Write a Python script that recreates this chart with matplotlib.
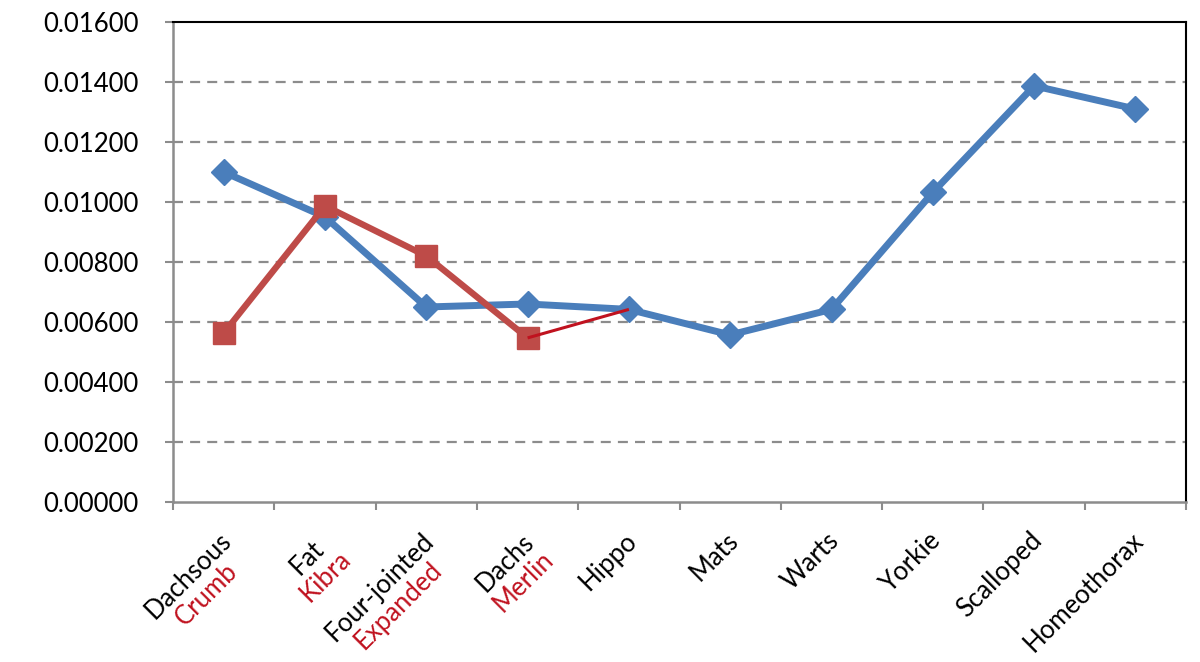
import numpy as np
import matplotlib.pyplot as plt

plt.rcParams['font.family'] = ['Lato', 'DejaVu Sans']

# category labels: first line black, second line (if any) red
top_labels = ['Dachsous', 'Fat', 'Four-jointed', 'Dachs', 'Hippo',
              'Mats', 'Warts', 'Yorkie', 'Scalloped', 'Homeothorax']
red_labels = ['Crumb', 'Kibra', 'Expanded', 'Merlin', '', '', '', '', '', '']

blue_vals = [0.01100, 0.00950, 0.00650, 0.00660, 0.00642,
             0.00557, 0.00642, 0.01032, 0.01387, 0.01310]
red_vals = [0.00563, 0.00987, 0.00820, 0.00547]
# thin connector from Merlin to Hippo
link_idx = [3, 4]
link_vals = [0.00547, 0.00642]

yticks = np.arange(0, 0.0161, 0.002)

blue = '#4a7ebb'
red = '#be4b48'
dark_red = '#c0121f'
grey = '#8c8c8c'

fig = plt.figure(figsize=(12, 6.62), dpi=100)
ax = fig.add_axes([0.1442, 0.2417, 0.8442, 0.7251])

x = np.arange(len(top_labels))
ax.plot(x, blue_vals, color=blue, lw=5, marker='D', ms=13, zorder=3)
ax.plot(x[:len(red_vals)], red_vals, color=red, lw=4.6, marker='s', ms=15.5, zorder=4)
ax.plot(link_idx, link_vals, color=dark_red, lw=2.2, zorder=5, solid_capstyle='butt')

ax.set_xlim(-0.5, len(top_labels) - 0.5)
ax.set_ylim(0, 0.016)
ax.set_yticks(yticks)
ax.set_yticklabels([f'{v:.5f}' for v in yticks])
ax.set_xticks(np.arange(-0.5, len(top_labels), 1.0))
ax.set_xticklabels([])

for v in yticks[1:-1]:
    ax.axhline(v, color=grey, lw=1.6, dashes=(4.5, 3.2), zorder=1)

ax.tick_params(axis='y', direction='out', length=6, width=1.5, color=grey,
               labelsize=18.5, pad=19)
ax.tick_params(axis='x', direction='out', length=6, width=1.5, color=grey)
ax.spines['left'].set_color(grey)
ax.spines['bottom'].set_color(grey)
ax.spines['left'].set_linewidth(1.8)
ax.spines['bottom'].set_linewidth(1.8)
ax.spines['top'].set_color('black')
ax.spines['right'].set_color('black')
ax.spines['top'].set_linewidth(1.5)
ax.spines['right'].set_linewidth(1.5)

# rotated, two-colour category labels
label_size = 18.5
renderer = fig.canvas.get_renderer()


def text_width(s):
    t = fig.text(0, 0, s, fontsize=label_size)
    w = t.get_window_extent(renderer).width
    t.remove()
    return w


c = np.sqrt(0.5)
step = 26  # px between the two lines
for i, (a, b) in enumerate(zip(top_labels, red_labels)):
    lines = [(a, 'black')] + ([(b, dark_red)] if b else [])
    widths = [text_width(s) for s, _ in lines]
    W = max(widths)
    for k, ((s, col), w) in enumerate(zip(lines, widths)):
        back = (W - w) / 2
        dx = -5 + k * step * c - back * c
        dy = -26 - k * step * c - back * c
        ax.annotate(s, xy=(i, 0), xycoords=('data', 'axes fraction'),
                    xytext=(dx, dy), textcoords='offset pixels',
                    rotation=45, rotation_mode='anchor', ha='right', va='top',
                    fontsize=label_size, color=col, annotation_clip=False)

fig.savefig('out.png', dpi=100)
